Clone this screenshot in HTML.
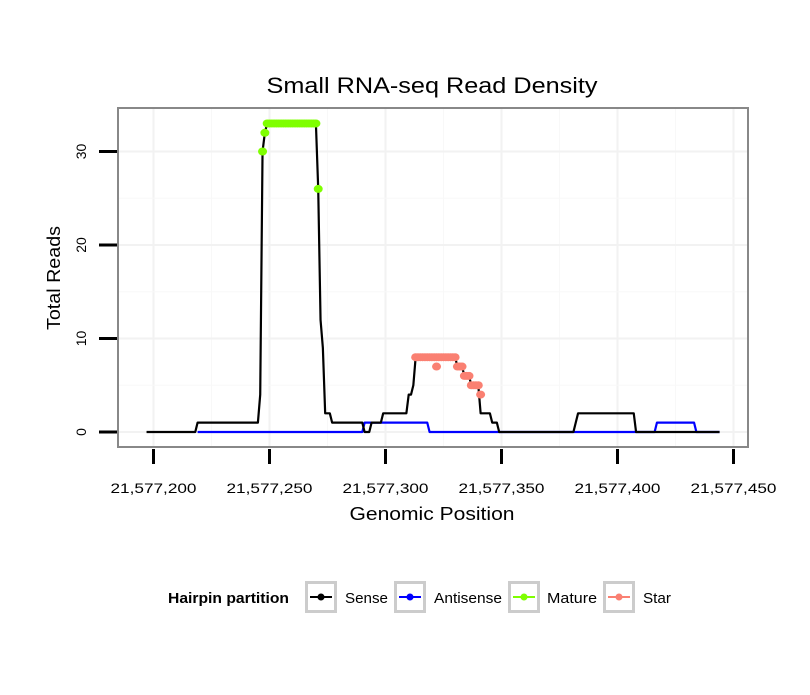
<!DOCTYPE html>
<html><head><meta charset="utf-8"><style>
body{margin:0;background:#fff;font-family:"Liberation Sans",sans-serif}
svg text{font-family:"Liberation Sans",sans-serif}
</style></head><body>
<svg width="810" height="690" viewBox="0 0 810 690">
<rect width="810" height="690" fill="#fff"/>
<text x="432" y="93" font-size="22" text-anchor="middle" textLength="331" lengthAdjust="spacingAndGlyphs">Small RNA-seq Read Density</text>
<g id="grid"></g>
<rect x="118" y="108" width="630" height="339" fill="none" stroke="#888" stroke-width="2"/>
<g id="series"></g>
<g id="axes"></g>
<text x="432" y="520" font-size="18" text-anchor="middle" textLength="165" lengthAdjust="spacingAndGlyphs">Genomic Position</text>
<text transform="translate(60,278) rotate(-90)" font-size="18" text-anchor="middle" textLength="104" lengthAdjust="spacingAndGlyphs">Total Reads</text>
<g>
<text x="168" y="603" font-size="15" font-weight="bold" textLength="121" lengthAdjust="spacingAndGlyphs">Hairpin partition</text>
<g id="legend"></g>
</g>
</svg>
<script>
const BASE=21577000;
const xTicks=[21577200,21577250,21577300,21577350,21577400,21577450];
const yTicks=[0,10,20,30];
const sensePos=[197,218,219,245,246,247,248,249,270,271,272,273,274,276,277,290,291,293,294,298,299,309,310,311,312,313,330,331,333,334,336,337,340,341,345,346,348,349,381,382,383,407,408,444];
const senseVal=[0,0,1,1,4,30,32,33,33,26,12,9,2,2,1,1,0,0,1,1,2,2,4,4,5,8,8,7,7,6,6,5,5,2,2,1,1,0,0,1,2,2,0,0];
const antiPos=[219,290,291,318,319,416,417,433,434,444];
const antiVal=[0,0,1,1,0,0,1,1,0,0];
const maturePos=[247,248,249,250,251,252,253,254,255,256,257,258,259,260,261,262,263,264,265,266,267,268,269,270,271];
const matureVal=[30,32,33,33,33,33,33,33,33,33,33,33,33,33,33,33,33,33,33,33,33,33,33,33,26];
const starPos=[313,314,315,316,317,318,319,320,321,322,323,324,325,326,327,328,329,330,322,331,332,333,334,335,336,337,338,339,340,341];
const starVal=[8,8,8,8,8,8,8,8,8,8,8,8,8,8,8,8,8,8,7,7,7,7,6,6,6,5,5,5,5,4];
const X=v=>153.5+(v-21577200)*2.32;
const XP=p=>X(BASE+p);
const Y=v=>432-9.35*v;
const NS="http://www.w3.org/2000/svg";
function mk(t,a,p){const e=document.createElementNS(NS,t);for(const k in a)e.setAttribute(k,a[k]);p.appendChild(e);return e;}
const grid=document.getElementById('grid'),axes=document.getElementById('axes'),ser=document.getElementById('series');
for(let i=0;i<xTicks.length;i++){
 const gx=X(xTicks[i]);
 const l=mk('line',{x1:gx,x2:gx,y1:108,y2:447,stroke:'#f2f2f2','stroke-width':2},grid);
 
 
 if(i<xTicks.length-1){const mx=X(xTicks[i]+25);mk('line',{x1:mx,x2:mx,y1:108,y2:447,stroke:'#f8f8f8','stroke-width':1},grid);}
 const t=mk('line',{x1:gx,x2:gx,y1:449,y2:464,stroke:'#000','stroke-width':3},axes);
 
 
 const tx=mk('text',{x:gx,y:493,'font-size':14,'text-anchor':'middle',textLength:86,lengthAdjust:'spacingAndGlyphs'},axes);
 tx.textContent=xTicks[i].toLocaleString('en-US');
 
 
}
for(let i=0;i<yTicks.length;i++){
 const gy=Y(yTicks[i]);
 const l=mk('line',{x1:118,x2:748,y1:gy,y2:gy,stroke:'#f2f2f2','stroke-width':2},grid);
 
 
 const my=Y(yTicks[i]+5);if(my>108)mk('line',{x1:118,x2:748,y1:my,y2:my,stroke:'#f8f8f8','stroke-width':1},grid);
 const t=mk('line',{x1:99,x2:117,y1:gy,y2:gy,stroke:'#000','stroke-width':3},axes);
 
 
 const tx=mk('text',{transform:`translate(86,${gy}) rotate(-90)`,'font-size':14,'text-anchor':'middle'},axes);
 tx.textContent=yTicks[i];
 
 
}
function line(pos,val,c,name){
 const p=mk('polyline',{points:pos.map((v,i)=>XP(v)+','+Y(val[i])).join(' '),fill:'none',stroke:c,'stroke-width':2.2,'stroke-linejoin':'round'},ser);
 
 
}
line(antiPos,antiVal,'#0000ff','antisense-line');
line(sensePos,senseVal,'#000','sense-line');
function pts(pos,val,c,name){
 for(let i=0;i<pos.length;i++){
  const d=mk('ellipse',{cx:XP(pos[i]),cy:Y(val[i]),rx:4.5,ry:4,fill:c},ser);
  
  
 }
}
pts(maturePos,matureVal,'#7fff00','mature-point');
pts(starPos,starVal,'#fa8072','star-point');
const lg=document.getElementById('legend');
const items=[['Sense','#000',305,345,43],['Antisense','#0000ff',394,434,68],['Mature','#7fff00',508,547,50],['Star','#fa8072',603,643,28]];
for(const it of items){
 const g=mk('g',{},lg);
 
 
 mk('rect',{x:it[2]+1.5,y:582.5,width:29,height:29,fill:'#fff',stroke:'#ccc','stroke-width':3},g);
 mk('line',{x1:it[2]+5,x2:it[2]+27,y1:597,y2:597,stroke:it[1],'stroke-width':2},g);
 mk('circle',{cx:it[2]+16,cy:597,r:3.5,fill:it[1]},g);
 const t=mk('text',{x:it[3],y:603,'font-size':15,textLength:it[4],lengthAdjust:'spacingAndGlyphs'},g);
 t.textContent=it[0];
}
</script>
</body></html>
